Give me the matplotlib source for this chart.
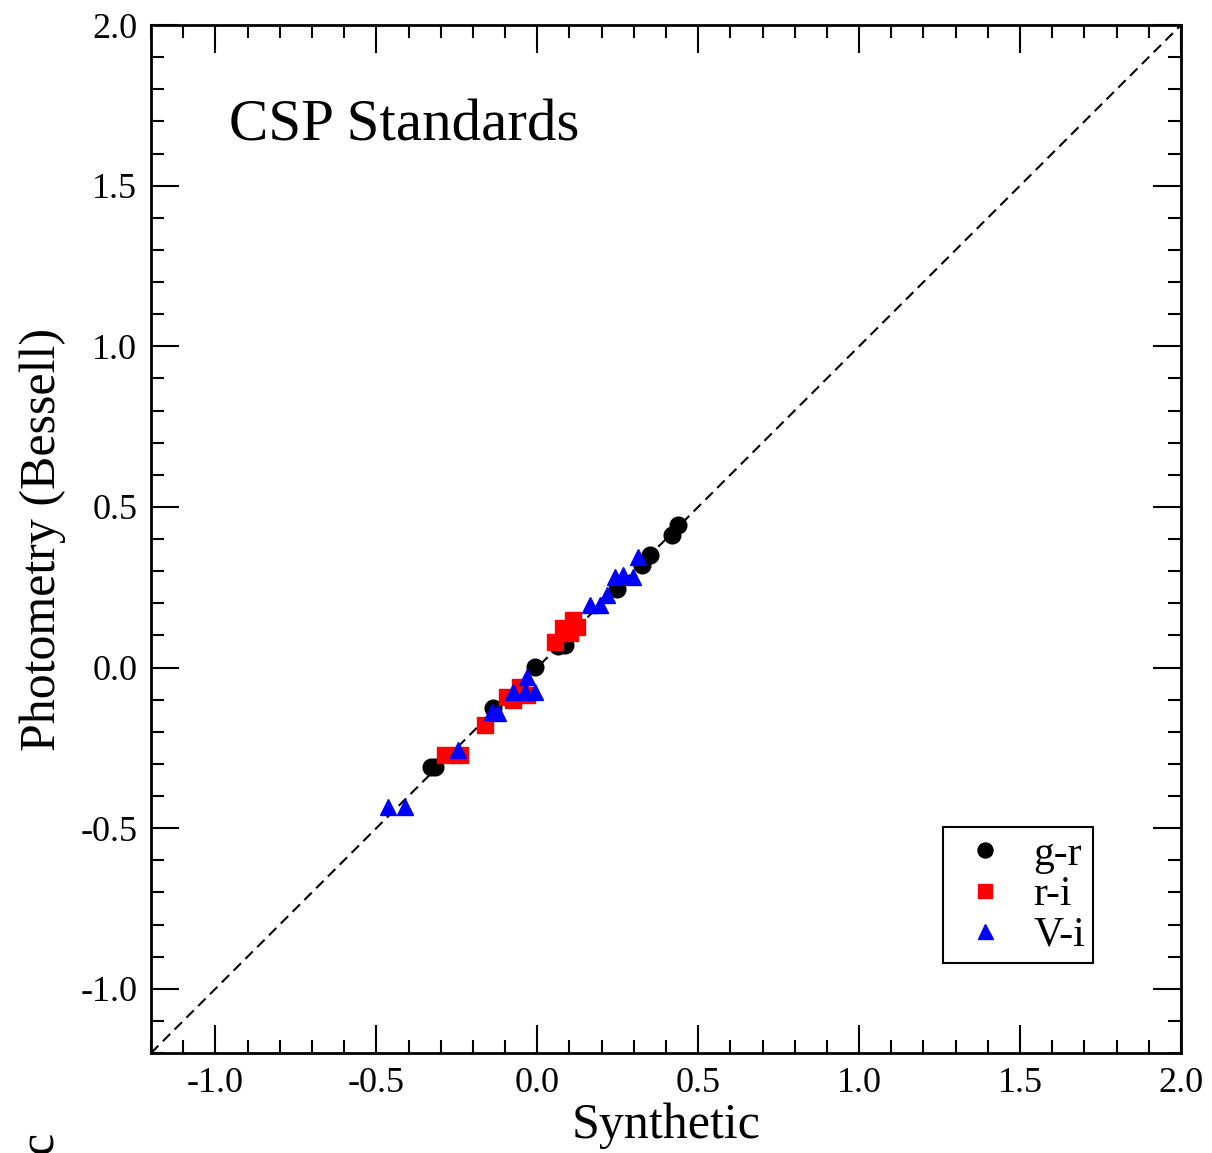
import numpy as np
import matplotlib.pyplot as plt
from matplotlib.ticker import MultipleLocator

plt.rcParams['font.family'] = ['Liberation Serif', 'DejaVu Serif']
plt.rcParams['axes.unicode_minus'] = False

# g-r
gr_x = [0.438, 0.418, 0.350, 0.324, 0.247, 0.086, 0.065, -0.007, -0.137, -0.318, -0.330]
gr_y = [0.443, 0.412, 0.350, 0.319, 0.246, 0.070, 0.068, 0.002, -0.127, -0.309, -0.309]
# r-i
ri_x = [0.112, 0.081, 0.122, 0.055, 0.102, -0.054, -0.095, -0.075, -0.033, -0.162, -0.287, -0.240]
ri_y = [0.148, 0.122, 0.127, 0.080, 0.106, -0.060, -0.091, -0.101, -0.086, -0.179, -0.272, -0.272]
# V-i
vi_x = [0.314, 0.241, 0.267, 0.298, 0.216, 0.164, 0.195, -0.033, -0.075, -0.038, -0.007,
        -0.142, -0.121, -0.245, -0.463, -0.411]
vi_y = [0.345, 0.283, 0.288, 0.283, 0.226, 0.195, 0.195, -0.029, -0.075, -0.075, -0.075,
        -0.138, -0.143, -0.257, -0.433, -0.433]

fig = plt.figure(figsize=(12.12, 11.53), dpi=100)
ax = fig.add_axes([0.1246, 0.0867, 0.8498, 0.8916])

ax.plot([-1.2, 2.0], [-1.2, 2.0], color='black', ls=(0, (5, 3)), lw=1.5)
ax.plot(gr_x, gr_y, 'o', color='black', ms=12, label='g-r')
ax.plot(ri_x, ri_y, 's', color='red', ms=11, label='r-i')
ax.plot(vi_x, vi_y, '^', color='blue', ms=12, label='V-i')

ax.set_xlim(-1.2, 2.0)
ax.set_ylim(-1.2, 2.0)
ax.xaxis.set_major_locator(MultipleLocator(0.5))
ax.yaxis.set_major_locator(MultipleLocator(0.5))
ax.xaxis.set_minor_locator(MultipleLocator(0.1))
ax.yaxis.set_minor_locator(MultipleLocator(0.1))
ax.xaxis.set_major_formatter(lambda v, p: f"{v:.1f}")
ax.yaxis.set_major_formatter(lambda v, p: f"{v:.1f}")
ax.tick_params(which='both', direction='in', top=True, right=True, width=1.5, labelsize=26)
ax.tick_params(which='major', length=20, pad=10)
ax.tick_params(which='minor', length=9.5)
for s in ax.spines.values():
    s.set_linewidth(2)

ax.set_xlabel('Synthetic', fontsize=36, labelpad=2)
ax.set_ylabel('Photometry (Bessell)', fontsize=36, labelpad=10)
ax.text(0.076, 0.888, 'CSP Standards', transform=ax.transAxes, fontsize=42.5)

leg = ax.legend(loc='lower right', bbox_to_anchor=(0.9146, 0.0875), borderaxespad=0,
                fontsize=30, fancybox=False, edgecolor='black', framealpha=1,
                markerscale=0.9, handlelength=1.63, handletextpad=0.34,
                borderpad=0.2, labelspacing=0.05)
leg.get_frame().set_linewidth(1.5)

# stray glyph at the bottom-left edge in the original
fig.text(0.033, 0.018, 'c', fontsize=36, rotation=90, ha='center', va='top')

fig.savefig('out.png', dpi=100)
